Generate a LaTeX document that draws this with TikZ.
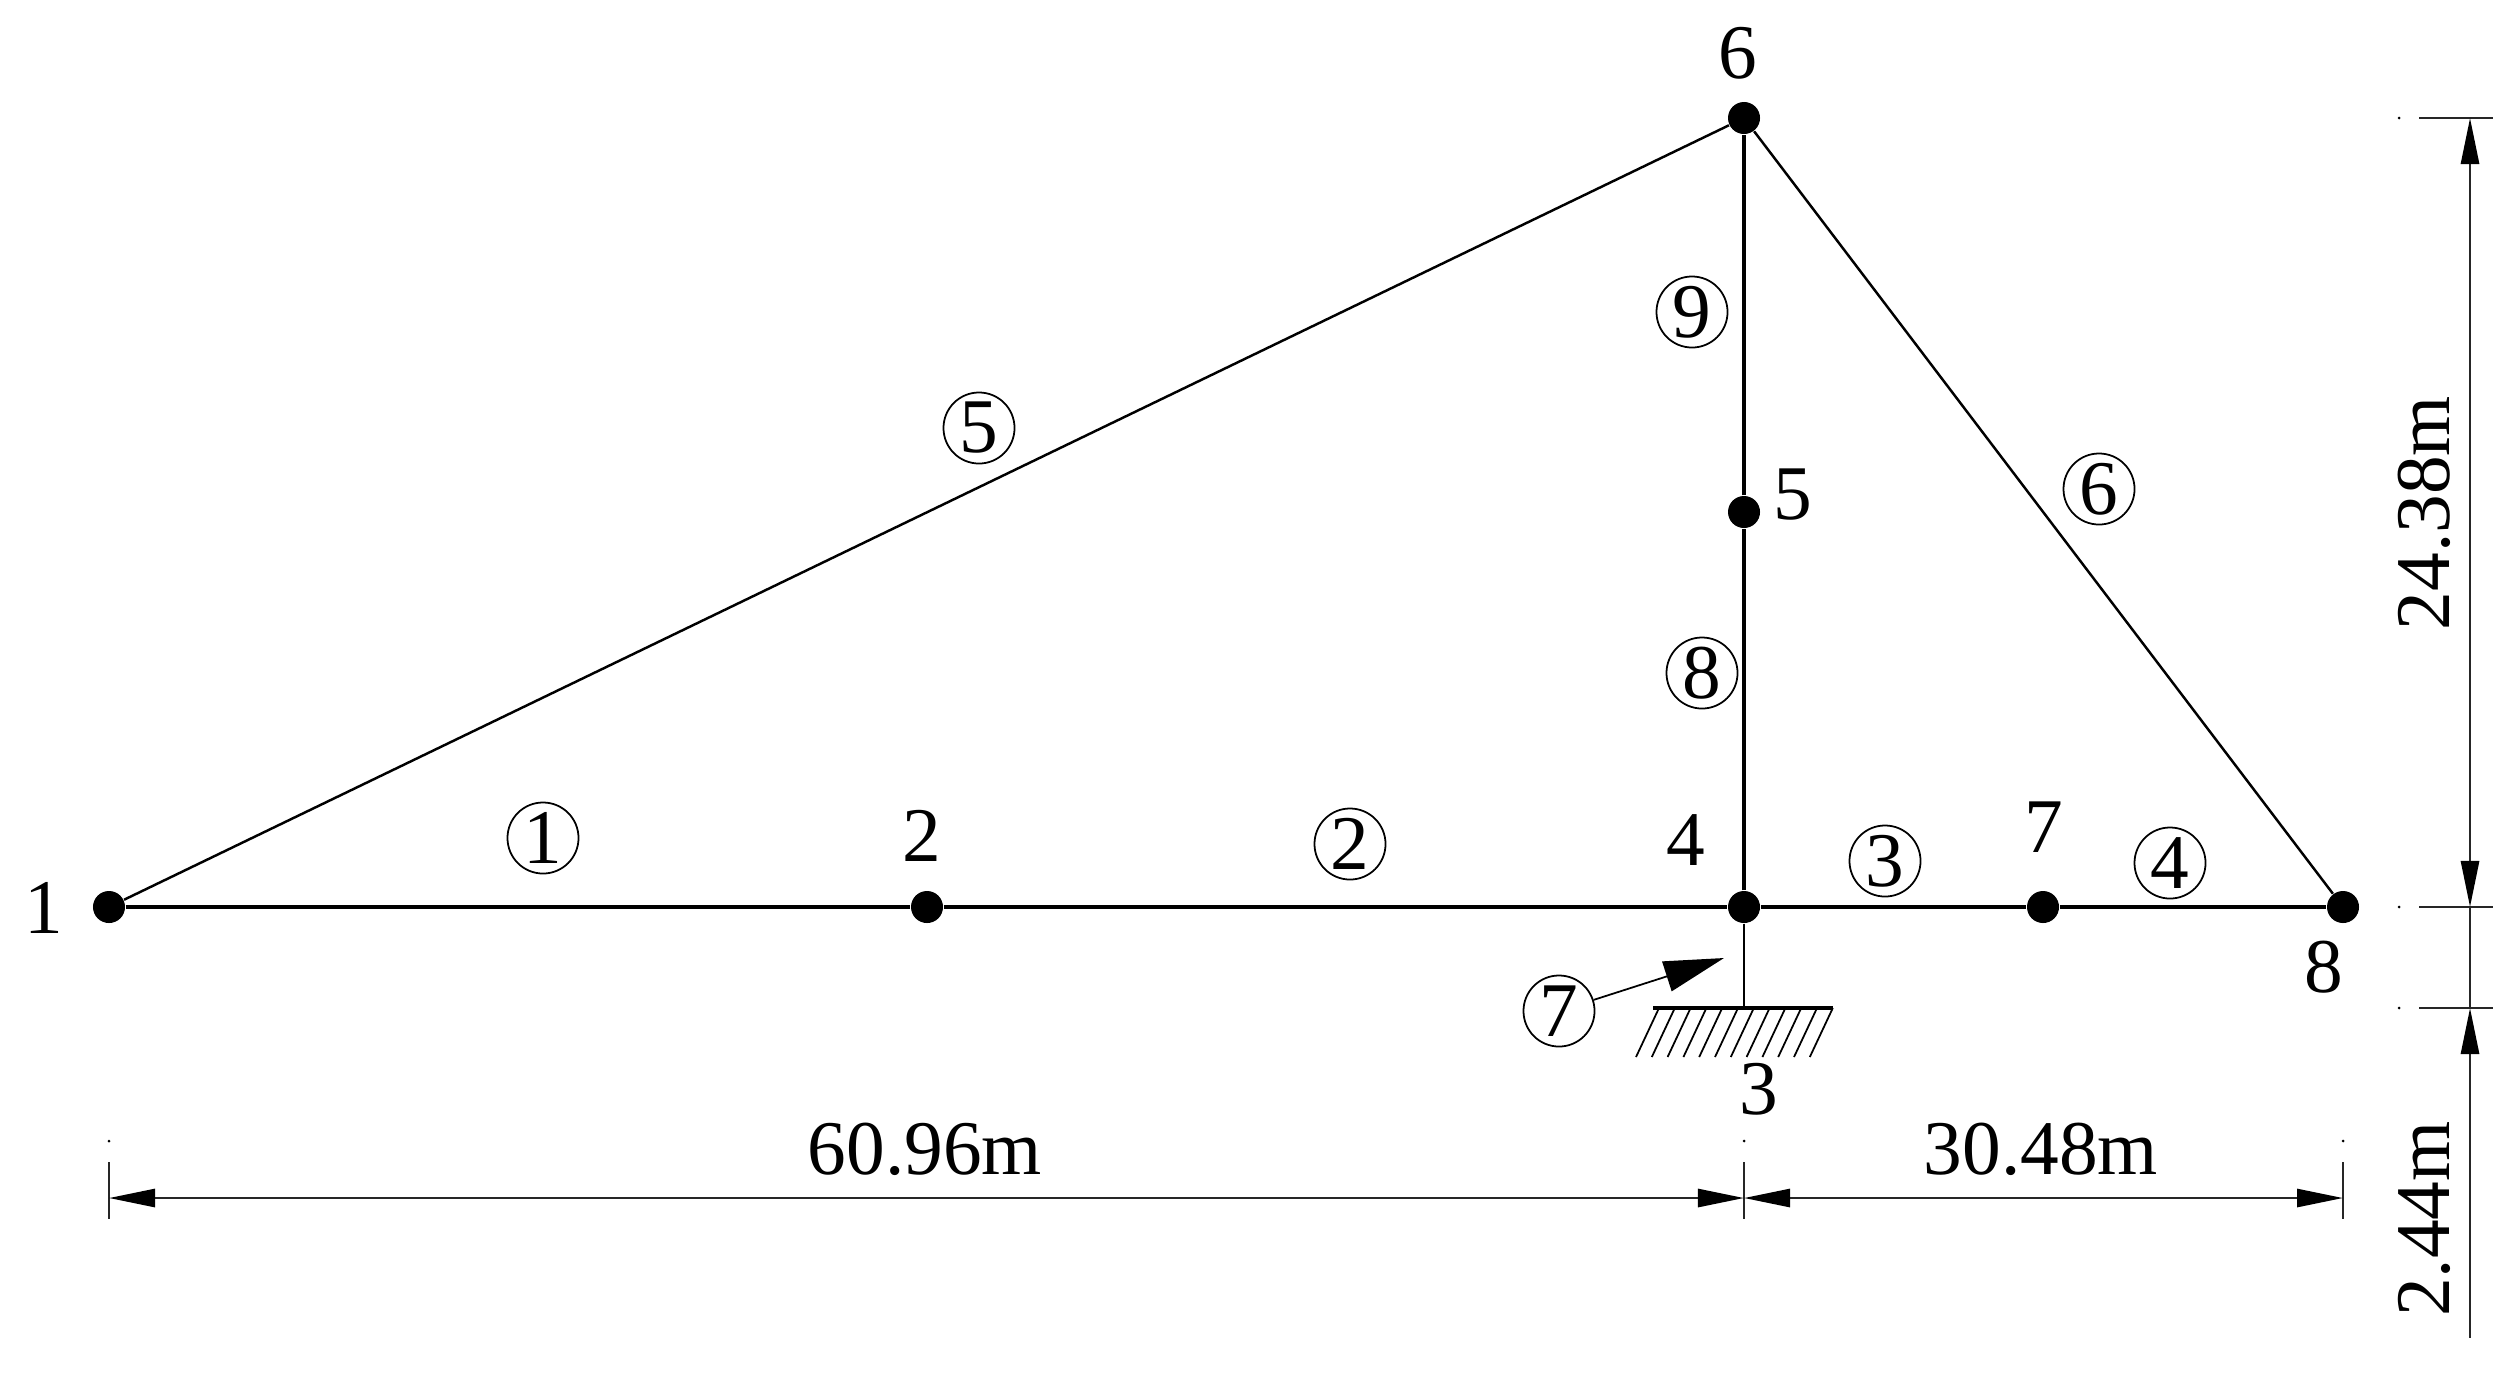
\documentclass[tikz,border=0pt]{standalone}
\usepackage{fontspec}
\setmainfont{Liberation Serif}
\usetikzlibrary{arrows.meta}
\tikzset{
  joint/.style={circle,fill=black,inner sep=0pt,minimum size=0.32cm},
  num/.style={inner sep=0pt,font=\fontsize{22}{26}\selectfont},
  member/.style={num,circle,draw,line width=0.5pt,minimum size=0.71cm},
  bar/.style={line width=0.9pt},
  brace/.style={line width=0.7pt},
  dimline/.style={line width=0.8pt,color=black!85,>={Triangle[length=4.6mm,width=1.8mm,black]}},
  speck/.style={circle,fill=black,inner sep=0pt,minimum size=0.03cm}
}
\begin{document}
\begin{tikzpicture}[x=0.01cm,y=-0.01cm]
\useasboundingbox (0,0) rectangle (2512,1381);
% joints
\foreach \n/\x/\y in {1/109/907, 2/927/907, 4/1744/907, 5/1744/512, 6/1744/118, 7/2043/907, 8/2343/907}
  \node[joint] (n\n) at (\x,\y) {};
\coordinate (n3) at (1744,1008);
% members
\draw[bar] (n1) -- (n2);
\draw[bar] (n2) -- (n4);
\draw[bar] (n4) -- (n7);
\draw[bar] (n7) -- (n8);
\draw[bar] (n4) -- (n5);
\draw[bar] (n5) -- (n6);
\draw[brace] (n1) -- (n6);
\draw[brace] (n6) -- (n8);
\draw[brace] (n4) -- (n3);
% ground
\coordinate (gl) at (1653,1008);
\coordinate (gr) at (1833,1008);
\draw[line width=0.9pt] (gl) -- (gr);
\foreach \i in {0,...,11}
  \draw[line width=0.5pt] ({1659+\i*15.8},1008) -- ({1636+\i*15.8},1057);
% joint labels
\foreach \n/\x/\y in {1/44/908, 2/922/836, 3/1759/1089, 4/1686/840, 5/1793/495, 6/1738/53, 7/2044/827, 8/2324/967}
  \node[num] (t\n) at (\x,\y) {\n};
% member labels
\foreach \n/\x/\y in {1/543/838, 2/1350/844, 3/1885/861, 4/2170/863, 5/979/428, 6/2099/489, 7/1559/1011, 8/1702/673, 9/1692/312}
  \node[member] (m\n) at (\x,\y) {\n};
\coordinate (a7) at (1724,958);
\draw[-{Triangle[length=6mm,width=3.1mm]},line width=0.5pt] (m7) -- (a7);
% dimensions
\foreach \x in {109,1744,2343} {
  \node[speck] (sx\x) at (\x,1141) {};
  \draw[dimline] (\x,1162) -- (\x,1219);
  \coordinate (d\x) at (\x,1198);
}
\foreach \y in {118,907,1008} {
  \node[speck] (sy\y) at (2399,\y) {};
  \draw[dimline] (2419,\y) -- (2493,\y);
  \coordinate (v\y) at (2470,\y);
}
\coordinate (vend) at (2470,1338);
\draw[dimline,<->] (d109) -- (d1744);
\draw[dimline,<->] (d1744) -- (d2343);
\draw[dimline,<->] (v118) -- (v907);
\draw[dimline] (v907) -- (v1008);
\draw[dimline,<-] (v1008) -- (vend);
\node[num] (w1) at (925,1149) {60.96m};
\node[num] (w2) at (2041,1149) {30.48m};
\node[num,rotate=90] (h1) at (2424,513) {24.38m};
\node[num,rotate=90] (h2) at (2424,1219) {2.44m};
\end{tikzpicture}
\end{document}
